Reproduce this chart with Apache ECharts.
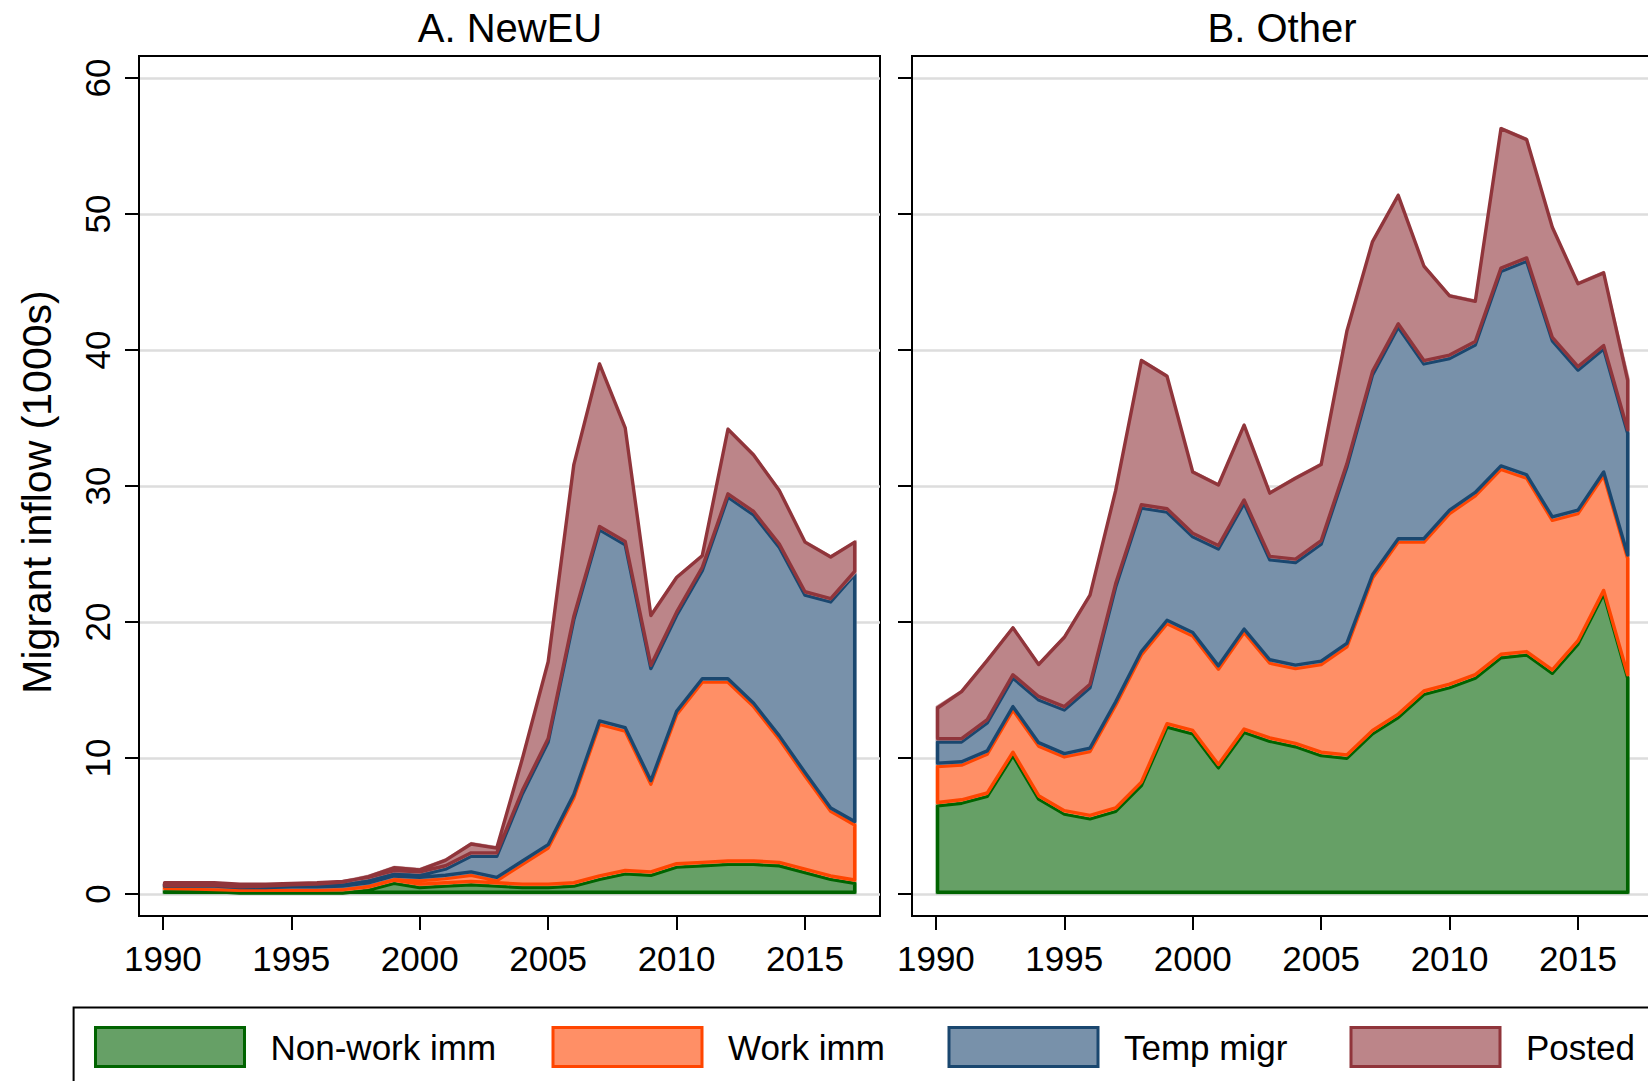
<!DOCTYPE html>
<html>
<head>
<meta charset="utf-8">
<script src="https://cdn.jsdelivr.net/npm/echarts@6/dist/echarts.min.js"></script>
<style>
html,body{margin:0;padding:0;background:#fff;}
#chart{width:1648px;height:1081px;}
</style>
</head>
<body>
<div id="chart"></div>
<script>
// ---------------- DATA ----------------
const years = [1990,1991,1992,1993,1994,1995,1996,1997,1998,1999,2000,2001,2002,2003,2004,2005,2006,2007,2008,2009,2010,2011,2012,2013,2014,2015,2016,2017];

// Panel A. NewEU (thousands)
const newEU_nonwork = [0.3,0.3,0.3,0.2,0.2,0.2,0.2,0.2,0.4,0.9,0.6,0.7,0.8,0.7,0.6,0.6,0.7,1.2,1.6,1.5,2.1,2.2,2.3,2.3,2.2,1.7,1.2,0.9];
const newEU_work    = [0.25,0.2,0.15,0.2,0.2,0.2,0.2,0.25,0.3,0.3,0.5,0.55,0.7,0.4,1.7,2.9,6.5,11.4,10.5,6.7,11.2,13.5,13.4,11.6,9.3,7.1,5.0,4.3];
const newEU_temp    = [0.15,0.2,0.25,0.2,0.2,0.25,0.3,0.35,0.4,0.4,0.4,0.7,1.4,1.8,5.2,7.8,13.1,14.3,13.7,8.5,7.3,8.2,13.6,14.1,14.1,13.3,15.4,18.4];
const newEU_posted  = [0.05,0.05,0.05,0.05,0.1,0.15,0.15,0.2,0.3,0.45,0.4,0.65,0.9,0.6,2.6,5.9,11.4,12.2,8.6,3.9,2.8,1.1,5.0,4.4,4.2,3.9,3.3,2.4];

// Panel B. Other (thousands)
const other_nonwork = [6.6,6.8,7.3,10.3,7.1,6.0,5.65,6.2,8.1,12.4,11.9,9.4,12.0,11.35,10.95,10.3,10.1,11.9,13.1,14.8,15.3,16.0,17.5,17.7,16.35,18.5,22.2,16.0];
const other_work    = [2.9,2.8,3.1,3.35,3.9,4.2,4.95,7.8,9.6,7.6,7.2,7.25,7.35,5.75,5.75,6.7,8.2,11.45,12.9,11.2,12.8,13.4,13.85,13.0,11.25,9.6,8.7,8.8];
const other_temp    = [1.8,1.7,2.3,2.35,3.4,3.45,4.7,8.7,10.8,8.2,7.3,8.85,9.5,7.6,7.8,8.85,13.2,14.95,15.8,13.1,11.4,11.1,14.55,15.95,13.2,10.55,9.3,9.2];
const other_posted  = [2.5,3.7,4.6,3.7,2.6,5.35,6.8,7.1,10.85,10.0,4.75,4.7,5.75,4.9,6.2,5.85,10.0,9.8,9.7,7.2,4.6,3.2,10.5,8.95,8.35,6.35,5.6,3.9];

const seriesNames = ['Non-work imm', 'Work imm', 'Temp migr', 'Posted'];
const panelTitles = ['A. NewEU', 'B. Other'];
const yAxisTitle = 'Migrant inflow (1000s)';
const xTickValues = [1990, 1995, 2000, 2005, 2010, 2015];
const yTickValues = [0, 10, 20, 30, 40, 50, 60];

// ---------------- STYLE ----------------
const FONT = "'Liberation Sans', Arial, Helvetica, sans-serif";
const fills = ['#66a066', '#ff8f66', '#7891aa', '#bc8589'];
const lines = ['#006400', '#ff4500', '#1a476f', '#90353b'];
const LW = 3.4;

const panels = [
  [newEU_nonwork, newEU_work, newEU_temp, newEU_posted],
  [other_nonwork, other_work, other_temp, other_posted]
];

function stackBands(parts) {
  let acc = years.map(() => 0);
  return parts.map(p => {
    const lo = acc.slice();
    acc = acc.map((v, i) => v + p[i]);
    return { lo: lo, hi: acc.slice() };
  });
}

function bandSeries(panelIdx, band, k) {
  const n = years.length;
  return {
    type: 'custom',
    name: seriesNames[k],
    coordinateSystem: 'cartesian2d',
    xAxisIndex: panelIdx,
    yAxisIndex: panelIdx,
    data: years.map((y, i) => [y, band.lo[i], band.hi[i]]),
    encode: { x: 0, y: [1, 2] },
    silent: true,
    clip: true,
    z: 2 + k,
    itemStyle: { color: fills[k], borderColor: lines[k] },
    renderItem: function (params, api) {
      if (params.dataIndex !== 0) return null;
      const h = LW / 2;
      const top = [], bot = [], topIn = [], botIn = [];
      for (let i = 0; i < n; i++) {
        const t = api.coord([years[i], band.hi[i]]);
        const b = api.coord([years[i], band.lo[i]]);
        top.push(t); bot.push(b);
        const dx = i === 0 ? h : (i === n - 1 ? -h : 0);
        topIn.push([t[0] + dx, t[1] + h]);
        botIn.push([b[0] + dx, b[1] - h]);
      }
      return {
        type: 'group',
        children: [
          { type: 'polygon', shape: { points: top.concat(bot.slice().reverse()) },
            style: { fill: fills[k], stroke: fills[k], lineWidth: 0.5 } },
          { type: 'polygon', shape: { points: topIn.concat(botIn.slice().reverse()) },
            style: { fill: 'none', stroke: lines[k], lineWidth: LW, lineJoin: 'round' } }
        ]
      };
    }
  };
}

const gridLefts = [139, 912];
const XMIN = 1989.07, XMAX = 2017.92;
const YMIN = -1.62, YMAX = 61.62;

const grids = gridLefts.map(l => ({
  left: l, top: 56, width: 741, height: 860,
  show: true, borderColor: '#000', borderWidth: 2, backgroundColor: 'transparent',
  containLabel: false, outerBoundsMode: 'none'
}));

const axisLineStyle = { color: '#000', width: 2 };

const xAxes = [0, 1].map(p => ({
  gridIndex: p, type: 'value', min: XMIN, max: XMAX,
  axisLine: { show: true, onZero: false, lineStyle: axisLineStyle },
  axisTick: { show: true, inside: false, length: 14, lineStyle: axisLineStyle, customValues: xTickValues },
  axisLabel: { show: true, customValues: xTickValues, margin: 25, fontSize: 35, fontFamily: FONT, color: '#000',
               formatter: v => String(v) },
  splitLine: { show: false }
}));

const yAxes = [0, 1].map(p => ({
  gridIndex: p, type: 'value', min: YMIN, max: YMAX,
  axisLine: { show: true, onZero: false, lineStyle: axisLineStyle },
  axisTick: { show: true, inside: false, length: 14, lineStyle: axisLineStyle, customValues: yTickValues },
  axisLabel: { show: p === 0, customValues: yTickValues, rotate: 90, margin: 24, fontSize: 35, fontFamily: FONT, color: '#000',
               formatter: v => String(v) },
  splitLine: { show: true, lineStyle: { color: '#dddddd', width: 2.5 } },
  name: p === 0 ? yAxisTitle : '',
  nameLocation: 'middle', nameGap: 82,
  nameTextStyle: { fontSize: 41, fontFamily: FONT, color: '#000', padding: [0, 12, 0, 0] }
}));

const series = [];
panels.forEach((parts, p) => {
  const bands = stackBands(parts);
  bands.forEach((b, k) => series.push(bandSeries(p, b, k)));
});

const legendLefts = [94, 551.5, 947.5, 1349.5];
const legends = seriesNames.map((nm, k) => ({
  left: legendLefts[k], top: 1026, padding: 0, orient: 'horizontal',
  itemWidth: 149, itemHeight: 39, selectedMode: false,
  data: [{ name: nm, icon: 'rect', itemStyle: { color: fills[k], borderColor: lines[k], borderWidth: 3 } }],
  textStyle: { fontSize: 35, fontFamily: FONT, color: '#000', padding: [0, 0, 0, 21] }
}));

const titleCenters = [510, 1282];
const graphics = [
  { type: 'rect', shape: { x: 73.6, y: 1007.5, width: 1800, height: 300 },
    style: { fill: 'none', stroke: '#000', lineWidth: 2 }, silent: true, z: 0 }
].concat(panelTitles.map((t, p) => ({
  type: 'text', x: titleCenters[p], y: 28, silent: true,
  style: { text: t, fontSize: 40, fontFamily: FONT, fill: '#000', align: 'center', verticalAlign: 'middle' }
})));

const chart = echarts.init(document.getElementById('chart'), null, { renderer: 'svg', width: 1648, height: 1081 });
chart.setOption({
  animation: false,
  backgroundColor: '#fff',
  grid: grids,
  xAxis: xAxes,
  yAxis: yAxes,
  legend: legends,
  graphic: graphics,
  series: series
});
</script>
</body>
</html>
